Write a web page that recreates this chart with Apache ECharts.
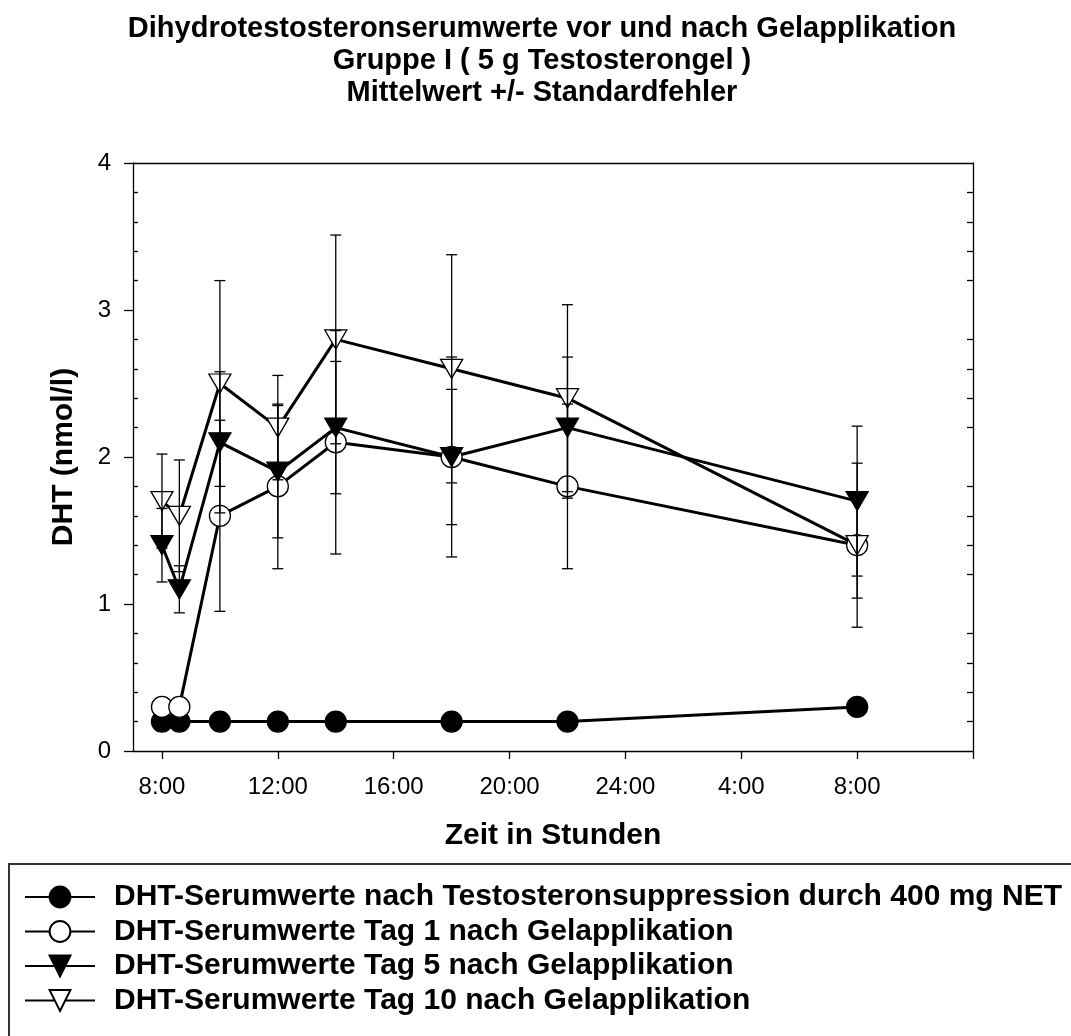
<!DOCTYPE html>
<html>
<head>
<meta charset="utf-8">
<title>DHT Serumwerte</title>
<script src="https://cdn.jsdelivr.net/npm/echarts@6/dist/echarts.min.js"></script>
<style>
  html, body { margin: 0; padding: 0; background: #fff; }
  #chart { width: 1071px; height: 1036px; }
</style>
</head>
<body>
<div id="chart"></div>
<script>
const FONT = "'Liberation Sans', Arial, Helvetica, sans-serif";

// Sampling times in hours from midnight of day 1 (32 = 8:00 next morning)
const hours = [8, 8.6, 10, 12, 14, 18, 22, 32];

// Axis ticks and labels
const xTickHours = [8, 12, 16, 20, 24, 28, 32, 36];
const xLabelHours = [8, 12, 16, 20, 24, 28, 32];
const yMinorTicks = [0.2, 0.4, 0.6, 0.8, 1.2, 1.4, 1.6, 1.8, 2.2, 2.4, 2.6, 2.8, 3.2, 3.4, 3.6, 3.8];

const titleLines = [
  'Dihydrotestosteronserumwerte vor und nach Gelapplikation',
  'Gruppe I ( 5 g Testosterongel )',
  'Mittelwert +/- Standardfehler'
];

const seriesNames = [
  'DHT-Serumwerte nach Testosteronsuppression durch 400 mg NET',
  'DHT-Serumwerte Tag 1 nach Gelapplikation',
  'DHT-Serumwerte Tag 5 nach Gelapplikation',
  'DHT-Serumwerte Tag 10 nach Gelapplikation'
];

// Mean values (nmol/l) and standard errors
const suppMean  = [0.2, 0.2, 0.2, 0.2, 0.2, 0.2, 0.2, 0.3];
const suppSE    = [0, 0, 0, 0, 0, 0, 0, 0];
const tag1Mean  = [0.3, 0.3, 1.6, 1.8, 2.1, 2.0, 1.8, 1.4];
const tag1SE    = [0, 0, 0.65, 0.56, 0.76, 0.68, 0.56, 0.36];
const tag5Mean  = [1.4, 1.1, 2.1, 1.9, 2.2, 2.0, 2.2, 1.7];
const tag5SE    = [0.25, 0.16, 0.48, 0.45, 0.45, 0.46, 0.48, 0.51];
const tag10Mean = [1.7, 1.6, 2.5, 2.2, 2.8, 2.6, 2.4, 1.4];
const tag10SE   = [0.32, 0.38, 0.70, 0.355, 0.71, 0.776, 0.636, 0.558];

const groups = [
  { mean: suppMean,  se: suppSE,  symbol: 'circle',   size: 21,       rotate: 0,   fill: '#000' },
  { mean: tag1Mean,  se: tag1SE,  symbol: 'circle',   size: 21,       rotate: 0,   fill: '#fff' },
  { mean: tag5Mean,  se: tag5SE,  symbol: 'triangle', size: [22, 19], rotate: 180, fill: '#000' },
  { mean: tag10Mean, se: tag10SE, symbol: 'triangle', size: [22, 19], rotate: 180, fill: '#fff' }
];

function errorBarItem(params, api) {
  const x = api.value(0), lo = api.value(1), hi = api.value(2);
  if (!(hi > lo)) return null;
  const top = api.coord([x, hi]);
  const bot = api.coord([x, lo]);
  const w = 5.5;
  const style = { stroke: '#000', lineWidth: 1.3, fill: null };
  return {
    type: 'group',
    children: [
      { type: 'line', shape: { x1: top[0], y1: top[1], x2: bot[0], y2: bot[1] }, style: style },
      { type: 'line', shape: { x1: top[0] - w, y1: top[1], x2: top[0] + w, y2: top[1] }, style: style },
      { type: 'line', shape: { x1: bot[0] - w, y1: bot[1], x2: bot[0] + w, y2: bot[1] }, style: style }
    ]
  };
}

const lineSeries = groups.map((g, k) => ({
  name: seriesNames[k],
  type: 'line',
  data: hours.map((h, i) => [h, g.mean[i]]),
  symbol: g.symbol,
  symbolSize: g.size,
  symbolRotate: g.rotate,
  showAllSymbol: true,
  lineStyle: { color: '#000', width: 3 },
  itemStyle: { color: g.fill, borderColor: '#000', borderWidth: 1.3 },
  emphasis: { disabled: true },
  animation: false,
  z: 2
}));

const errorSeries = groups.map((g, k) => ({
  name: 'err' + k,
  type: 'custom',
  renderItem: errorBarItem,
  data: hours.map((h, i) => [h, g.mean[i] - g.se[i], g.mean[i] + g.se[i]]),
  encode: { x: 0, y: [1, 2] },
  silent: true,
  animation: false,
  z: 5
}));

const axisLineStyle = { color: '#000', width: 1.3 };

const option = {
  backgroundColor: '#fff',
  animation: false,
  graphic: [
    {
      type: 'text',
      x: 542,
      y: 13,
      silent: true,
      style: {
        text: titleLines.join('\n'),
        align: 'center',
        verticalAlign: 'top',
        fontFamily: FONT, fontSize: 29, fontWeight: 'bold', fill: '#000', lineHeight: 32
      }
    },
    {
      // legend frame, running past the right and bottom page edges
      type: 'rect',
      silent: true,
      shape: { x: 9, y: 864, width: 1200, height: 300 },
      style: { fill: null, stroke: '#333', lineWidth: 2 },
      z: 1
    }
  ],
  grid: { left: 133, right: 98, top: 163, bottom: 285, containLabel: false },
  legend: {
    data: seriesNames,
    orient: 'vertical',
    left: 24,
    top: 882,
    padding: 0,
    itemWidth: 70,
    itemHeight: 26,
    itemGap: 4.5,
    selectedMode: false,
    lineStyle: { width: 2 },
    textStyle: { fontFamily: FONT, fontSize: 30, fontWeight: 'bold', color: '#000', lineHeight: 26, padding: [0, 0, 0, 14] }
  },
  xAxis: [
    {
      type: 'value', position: 'bottom', min: 7, max: 36,
      axisLine: { show: true, onZero: false, lineStyle: axisLineStyle },
      axisTick: { show: true, customValues: xTickHours, length: 8, lineStyle: axisLineStyle },
      axisLabel: {
        customValues: xLabelHours,
        formatter: v => (v > 24 ? v - 24 : v) + ':00',
        fontFamily: FONT, fontSize: 24, color: '#000', margin: 24
      },
      splitLine: { show: false },
      name: 'Zeit in Stunden', nameLocation: 'middle', nameGap: 70,
      nameTextStyle: { fontFamily: FONT, fontSize: 30, fontWeight: 'bold', color: '#000' }
    },
    {
      type: 'value', position: 'top', min: 7, max: 36,
      axisLine: { show: true, onZero: false, lineStyle: axisLineStyle },
      axisTick: { show: false }, axisLabel: { show: false }, splitLine: { show: false }
    }
  ],
  yAxis: [
    {
      type: 'value', position: 'left', min: 0, max: 4, interval: 1,
      axisLine: { show: true, onZero: false, lineStyle: axisLineStyle },
      axisTick: { show: true, inside: false, length: 9, lineStyle: axisLineStyle },
      axisLabel: { fontFamily: FONT, fontSize: 24, color: '#000', margin: 22 },
      splitLine: { show: false },
      name: 'DHT (nmol/l)', nameLocation: 'middle', nameGap: 54, nameRotate: 90,
      nameTextStyle: { fontFamily: FONT, fontSize: 30, fontWeight: 'bold', color: '#000' }
    },
    {
      type: 'value', position: 'left', min: 0, max: 4,
      axisLine: { show: false, onZero: false },
      axisTick: { show: true, inside: true, length: 5, customValues: yMinorTicks, lineStyle: axisLineStyle },
      axisLabel: { show: false }, splitLine: { show: false }
    },
    {
      type: 'value', position: 'right', min: 0, max: 4,
      axisLine: { show: true, onZero: false, lineStyle: axisLineStyle },
      axisTick: { show: true, inside: true, length: 6, customValues: yMinorTicks, lineStyle: axisLineStyle },
      axisLabel: { show: false }, splitLine: { show: false }
    }
  ],
  series: lineSeries.concat(errorSeries)
};

const chart = echarts.init(document.getElementById('chart'), null, { renderer: 'canvas' });
chart.setOption(option);
</script>
</body>
</html>
